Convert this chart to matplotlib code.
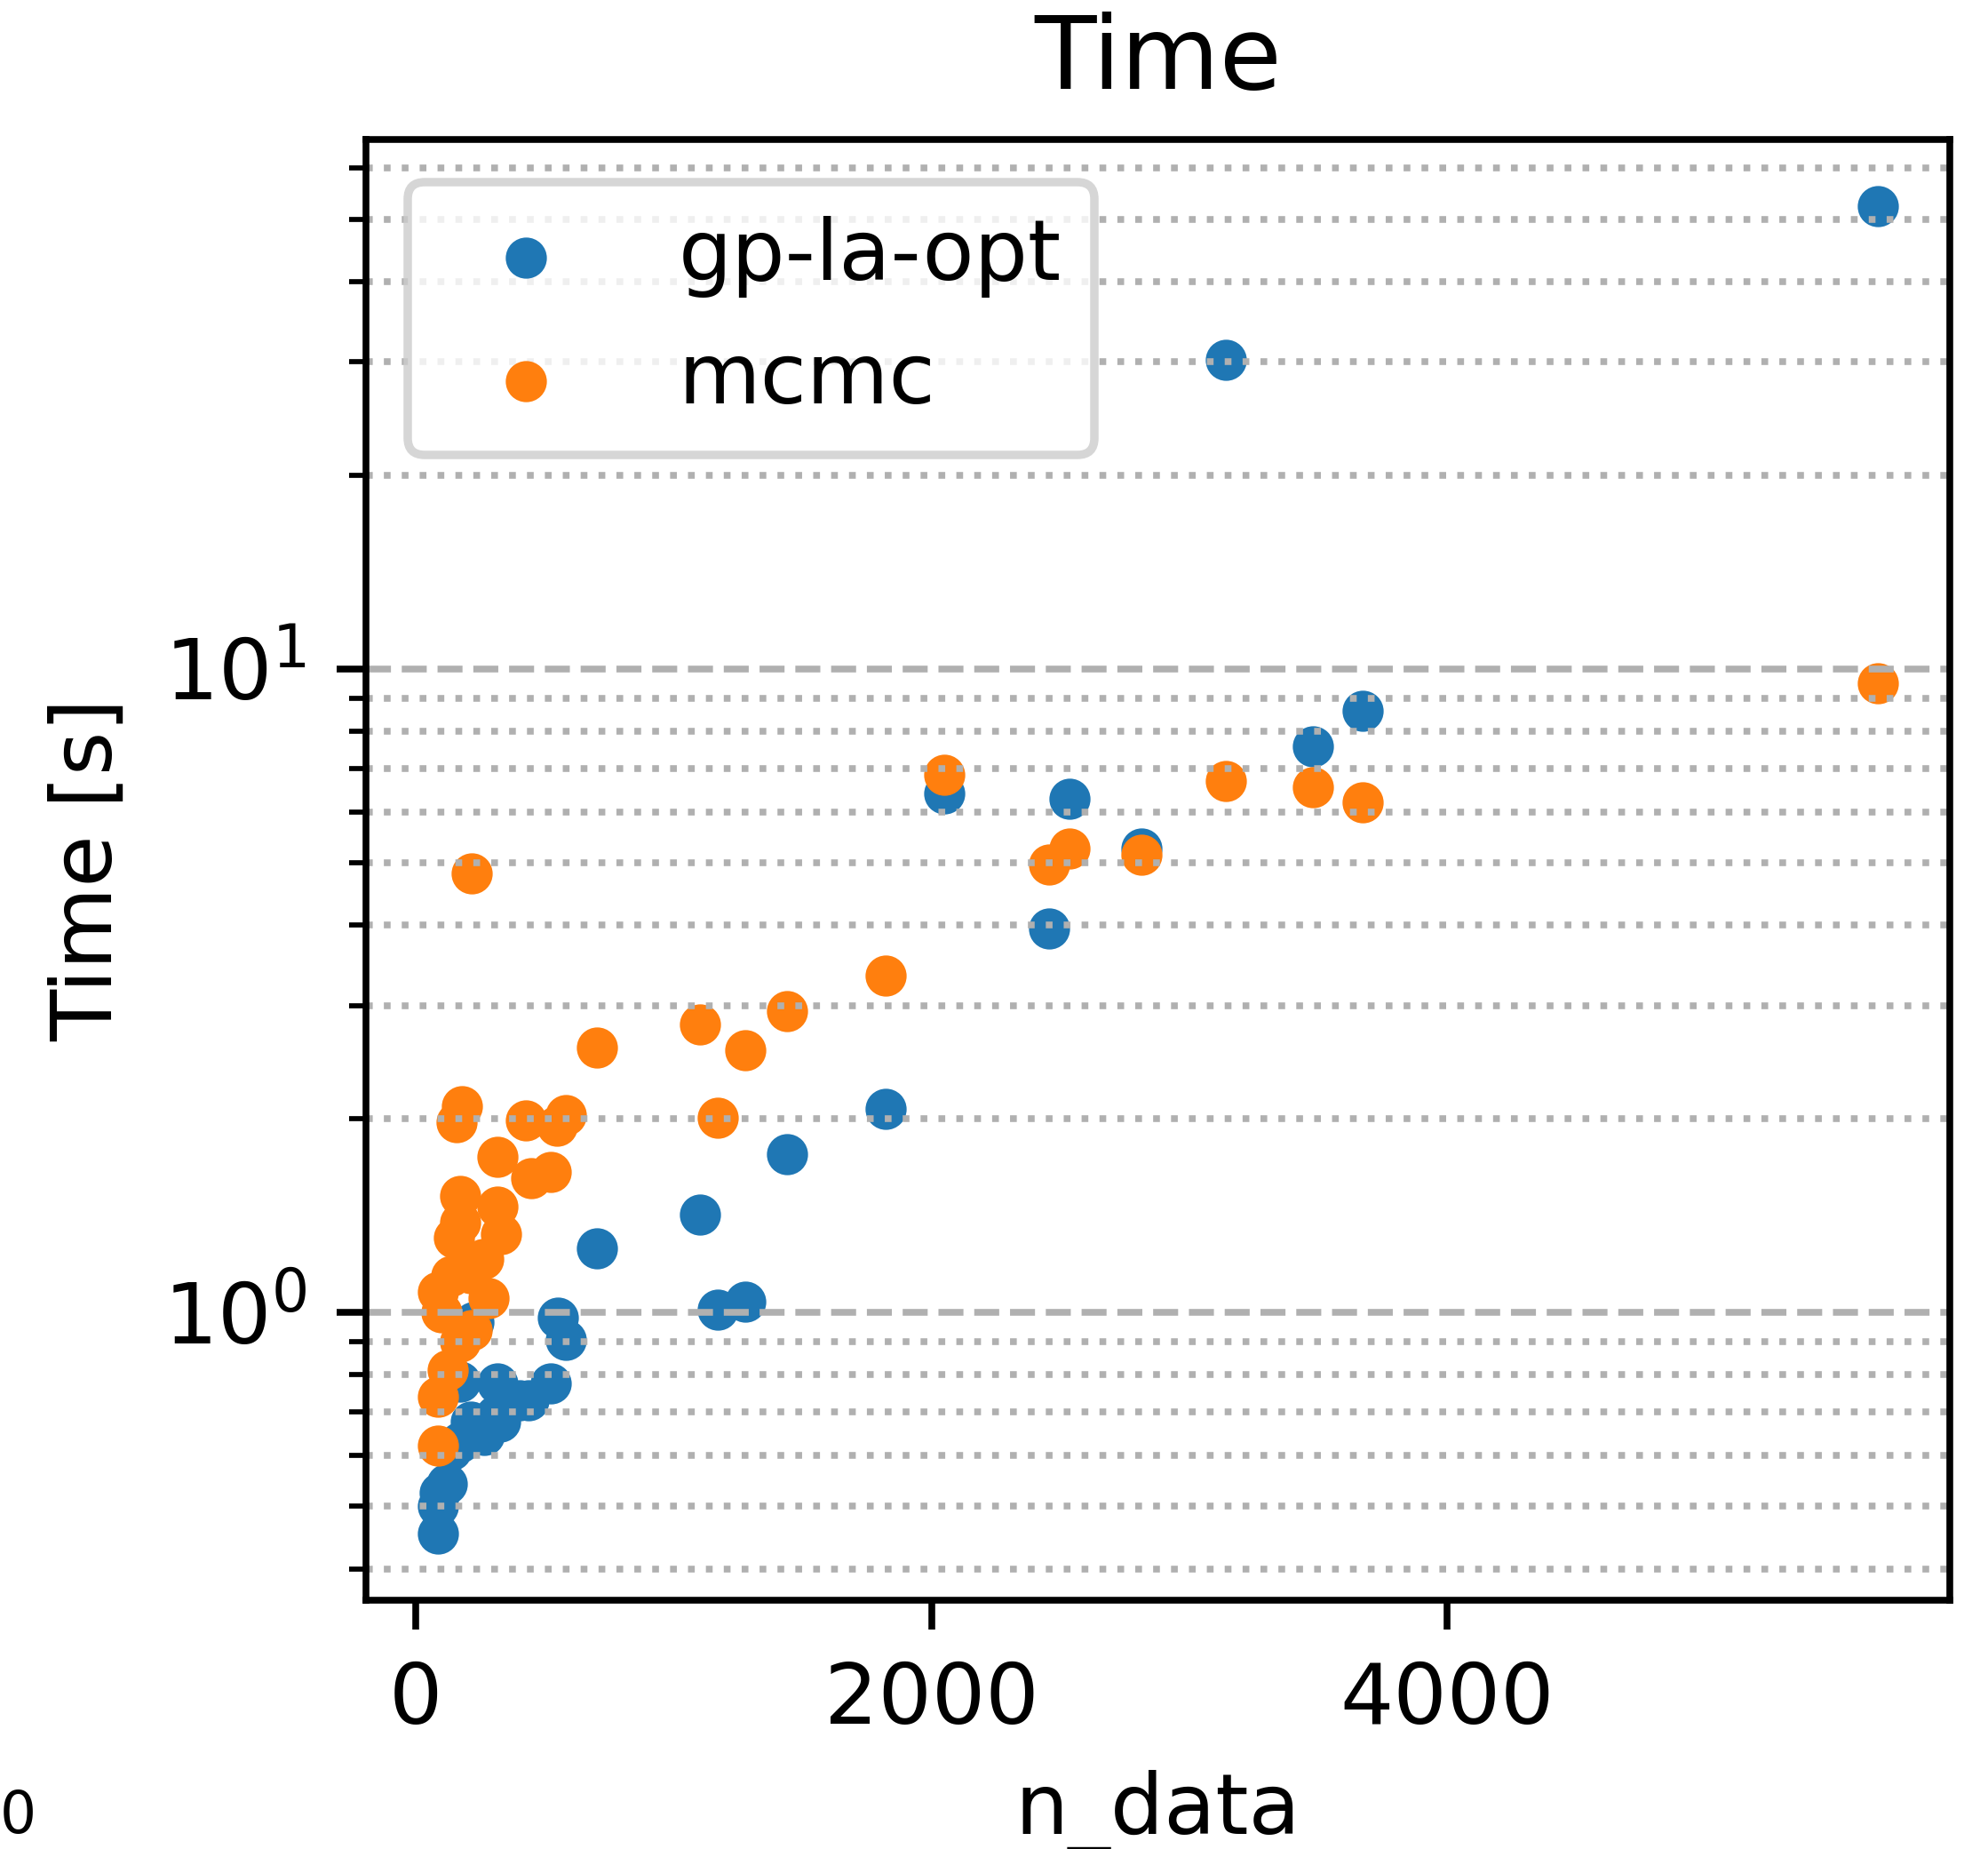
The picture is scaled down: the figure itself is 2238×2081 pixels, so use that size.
import numpy as np
import matplotlib.pyplot as plt

# n_data and run time for the two methods
n_gp = np.array([5671, 3671, 3479, 3140, 2816, 2535, 2457, 2049, 1823, 1440, 1278, 1171, 1102, 704,
                 583, 550, 524, 438, 405, 328, 317, 311, 265, 225, 214, 174, 174, 139, 122, 93, 86, 88])
t_gp = np.array([52.4, 8.6, 7.57, 30.2, 5.26, 6.29, 3.95, 6.40, 2.07, 1.76, 1.04, 1.01, 1.42, 1.257,
                 0.907, 0.982, 0.776, 0.730, 0.73, 0.677, 0.776, 0.692, 0.645, 0.967, 0.677, 0.782,
                 0.629, 0.612, 0.542, 0.525, 0.50, 0.453])

n_mcmc = np.array([5671, 3671, 3479, 3140, 2816, 2535, 2457, 2049, 1823, 1440, 1278, 1171, 1102, 704,
                   583, 549, 524, 449, 426, 332, 317, 317, 283, 262, 219, 216, 214, 179, 174, 174,
                   171, 160, 147, 139, 125, 99, 87, 87, 86])
t_mcmc = np.array([9.51, 6.20, 6.55, 6.70, 5.15, 5.26, 4.96, 6.85, 3.34, 2.94, 2.56, 2.01, 2.80, 2.58,
                   2.03, 1.95, 1.654, 1.615, 1.99, 1.323, 1.744, 1.459, 1.052, 1.211, 0.938, 4.81,
                   1.152, 2.09, 1.517, 0.902, 1.38, 1.975, 1.306, 1.14, 0.813, 1.0, 1.078, 0.741, 0.622])

fig, ax = plt.subplots(figsize=(2238/684, 2081/684), dpi=684)
fig.subplots_adjust(left=0.184, right=0.981, top=0.9245, bottom=0.1345)

ax.scatter(n_gp, t_gp, s=15, label="gp-la-opt")
ax.scatter(n_mcmc, t_mcmc, s=15, label="mcmc")

ax.set_yscale("log")
ax.grid(which="major", axis="y", ls="--")
ax.grid(which="minor", axis="y", ls=":")

ax.set_xlabel("n_data", labelpad=3.4)
ax.set_ylabel("Time [s]")
ax.set_title("Time")
ax.legend(loc="upper left")

fig.text(0.0, 0.002, "0", fontsize=6.8, ha="left", va="bottom")

fig.savefig("out.png", dpi=684)
